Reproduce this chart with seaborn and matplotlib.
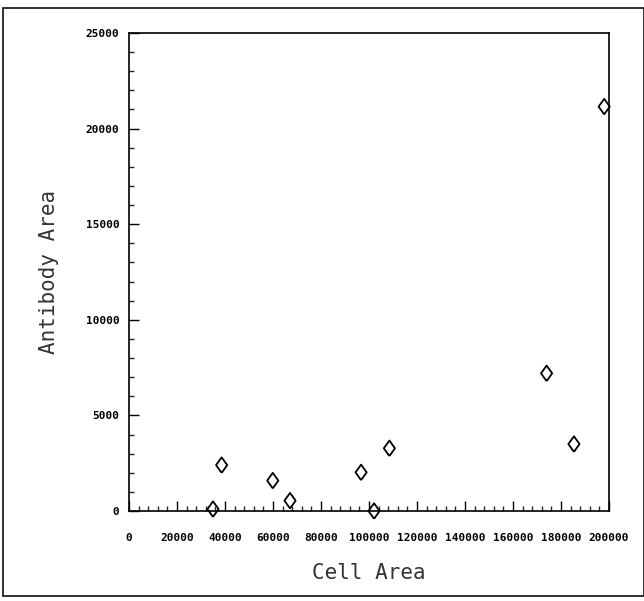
import matplotlib
matplotlib.use("Agg")
import matplotlib.pyplot as plt
import seaborn as sns
import pandas as pd
from matplotlib.ticker import MultipleLocator, FixedLocator
from matplotlib.patches import Rectangle

cell_area = [35000, 38600, 59900, 67100, 96700, 102100, 108500, 174000, 185400, 198000]
antibody_area = [100, 2400, 1590, 540, 2020, 0, 3280, 7200, 3500, 21150]
x_ticks = [0, 20000, 40000, 60000, 80000, 100000, 120000, 140000, 160000, 180000, 200000]
y_ticks = [0, 5000, 10000, 15000, 20000, 25000]

df = pd.DataFrame({"Cell Area": cell_area, "Antibody Area": antibody_area})

sns.set_style("white")
plt.rcParams['font.family'] = ['DejaVu Sans Mono', 'DejaVu Sans']

fig = plt.figure(figsize=(6.44, 6.01), dpi=100)
ax = fig.add_axes([129/644, 1-511/601, 480/644, 478/601])

diamond = [(0, -1), (0.72, 0), (0, 1), (-0.72, 0), (0, -1)]
sns.scatterplot(data=df, x="Cell Area", y="Antibody Area", ax=ax, marker=diamond,
                s=125, facecolor="none", edgecolor="black", linewidth=1.3,
                clip_on=False, zorder=5)

ax.set_xlim(0, 200000)
ax.set_ylim(0, 25000)
ax.xaxis.set_major_locator(FixedLocator(x_ticks))
ax.yaxis.set_major_locator(FixedLocator(y_ticks))
ax.xaxis.set_minor_locator(MultipleLocator(4000))
ax.yaxis.set_minor_locator(MultipleLocator(1000))
ax.set_xticklabels([str(v) for v in x_ticks])
ax.set_yticklabels([str(v) for v in y_ticks])

ax.tick_params(axis="x", which="major", direction="in", length=7, width=1,
               pad=16, labelsize=8, colors="black", bottom=True, top=False)
ax.tick_params(axis="x", which="minor", direction="in", length=3.5, width=1,
               bottom=True, top=False)
ax.tick_params(axis="y", which="major", direction="in", length=7, width=1,
               pad=7, labelsize=8, colors="black", left=True, right=False)
ax.tick_params(axis="y", which="minor", direction="in", length=3.5, width=1,
               left=True, right=False)
for lab in ax.get_xticklabels() + ax.get_yticklabels():
    lab.set_fontweight("bold")

for sp in ax.spines.values():
    sp.set_visible(True)
    sp.set_color("black")
    sp.set_linewidth(1.2)

ax.set_xlabel("Cell Area", fontsize=15, labelpad=14, color="#333333")
ax.set_ylabel("Antibody Area", fontsize=15, labelpad=19, color="#333333")

fig.patches.append(Rectangle((3/644, 1-596/601), 641/644, 588/601,
                             transform=fig.transFigure, fill=False,
                             edgecolor="#222222", linewidth=1.3))

fig.savefig("out.png", dpi=100, facecolor="white")
